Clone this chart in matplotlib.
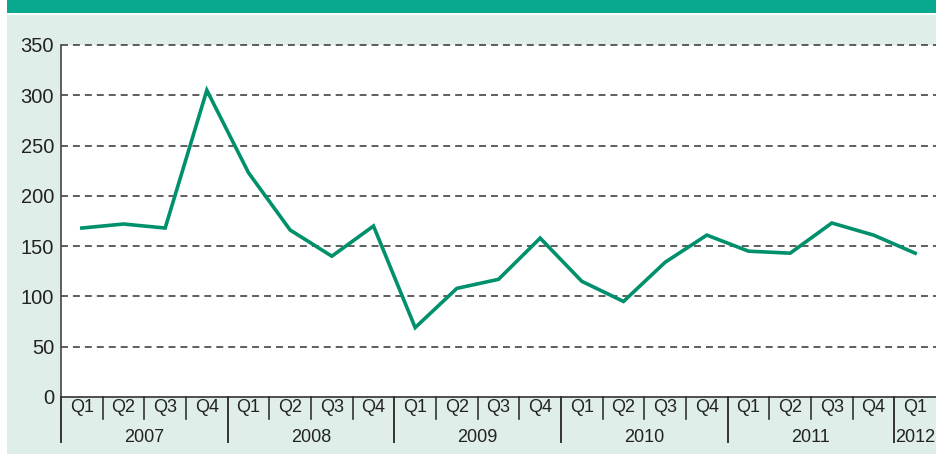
import matplotlib
matplotlib.use("Agg")
import matplotlib.pyplot as plt
from matplotlib.patches import Rectangle

plt.rcParams['font.family'] = ['Liberation Sans', 'DejaVu Sans']
plt.rcParams['lines.scale_dashes'] = False

years = ["2007", "2008", "2009", "2010", "2011", "2012"]
quarters = ["Q1", "Q2", "Q3", "Q4"] * 5 + ["Q1"]
values = [168, 172, 168, 305,
          223, 166, 140, 170,
          69, 108, 117, 158,
          115, 95, 134, 161,
          145, 143, 173, 161,
          143]
yticks = [0, 50, 100, 150, 200, 250, 300, 350]

W, H = 936, 455
fig = plt.figure(figsize=(W / 100, H / 100), dpi=100, facecolor="white")

# header band and light background
fig.patches.append(Rectangle((7 / W, 1 - 13 / H), 1, 13 / H, transform=fig.transFigure,
                             facecolor="#08a98e", edgecolor="none", zorder=-10))
fig.patches.append(Rectangle((7 / W, 1 / H), 1, (H - 16) / H, transform=fig.transFigure,
                             facecolor="#dfeee8", edgecolor="none", zorder=-10))

left, right, top, bottom = 61, 936, 45, 397
ax = fig.add_axes([left / W, (H - bottom) / H, (right - left) / W, (bottom - top) / H])
ax.set_facecolor("white")
ah = bottom - top

x = [i + 0.5 for i in range(len(values))]
ax.plot(x, values, color="#00906c", lw=2.6, solid_joinstyle="miter", zorder=3)

ax.set_xlim(0, len(values))
ax.set_ylim(0, 350)
ax.set_yticks(yticks)
ax.set_yticklabels([str(v) for v in yticks], fontsize=14.5, color="#222222")
ax.tick_params(axis="y", length=0, pad=5)
ax.set_xticks([])
for v in yticks[1:]:
    ax.axhline(v, color="#333333", lw=1.1, ls=(0, (5, 3.6)), zorder=1, clip_on=False)

for s in ["top", "right"]:
    ax.spines[s].set_visible(False)
ax.spines["left"].set_color("#444444")
ax.spines["left"].set_linewidth(1.2)
ax.spines["bottom"].set_color("#333333")
ax.spines["bottom"].set_linewidth(1.2)

tr = ax.get_xaxis_transform()
# quarter ticks and labels
for i, q in enumerate(quarters):
    if i % 4 != 0:
        ax.plot([i, i], [0, -22 / ah], transform=tr, color="#333333", lw=1.2, clip_on=False)
    ax.text(i + 0.5, -11 / ah, q, transform=tr, ha="center", va="center",
            fontsize=13, color="#222222")
# year separators and labels
for j, yr in enumerate(years):
    xs = j * 4
    ax.plot([xs, xs], [0, -45 / ah], transform=tr, color="#333333", lw=1.4, clip_on=False)
    if xs + 4 <= len(values):
        ax.text(xs + 2, -41 / ah, yr, transform=tr, ha="center", va="center",
                fontsize=13, color="#222222")
    else:
        ax.text(xs + 0.03, -41 / ah, yr, transform=tr, ha="left", va="center",
                fontsize=13, color="#222222")

fig.savefig("out.png", dpi=100, facecolor=fig.get_facecolor())
